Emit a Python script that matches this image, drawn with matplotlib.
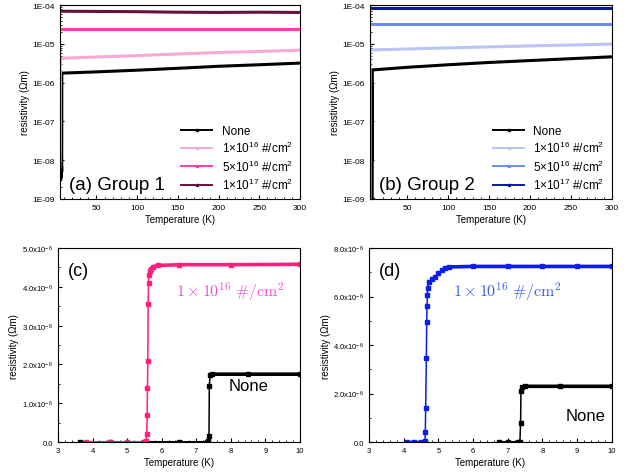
import matplotlib
matplotlib.use("Agg")
import matplotlib.pyplot as plt
from matplotlib.lines import Line2D
from matplotlib.ticker import FuncFormatter, MultipleLocator, AutoMinorLocator, LogLocator, NullFormatter
import numpy as np

plt.rcParams["font.family"] = ["Liberation Sans", "DejaVu Sans"]
plt.rcParams["mathtext.fontset"] = "custom"
plt.rcParams["mathtext.rm"] = "Liberation Sans"
plt.rcParams["mathtext.it"] = "Liberation Sans:italic"

# ---- log panels: full temperature sweep ----
g1_none_T = [5.0, 5.3, 5.6, 6.0, 6.4, 6.8, 7.1, 7.3, 7.37, 7.4, 10, 50, 100, 150, 200, 250, 300]
g1_none_r = [6e-9, 3e-9, 8e-9, 4e-9, 1e-8, 3.5e-9, 7e-9, 5e-9, 1.5e-7, 1.72e-6, 1.77e-6,
             1.9e-6, 2.1e-6, 2.35e-6, 2.65e-6, 2.9e-6, 3.2e-6]
g1_1e16_T = [5.0, 5.3, 5.56, 5.6, 5.65, 10, 50, 100, 150, 200, 250, 300]
g1_1e16_r = [7e-9, 1e-8, 2e-8, 1.4e-6, 4.2e-6, 4.3e-6, 4.6e-6, 5.0e-6, 5.5e-6, 6.0e-6, 6.4e-6, 6.9e-6]
g1_5e16_T = [5.0, 50, 100, 150, 200, 250, 300]
g1_5e16_r = [2.5e-5, 2.5e-5, 2.5e-5, 2.5e-5, 2.5e-5, 2.5e-5, 2.5e-5]
g1_1e17_T = [5.0, 50, 100, 150, 200, 250, 300]
g1_1e17_r = [7.0e-5, 6.9e-5, 6.8e-5, 6.6e-5, 6.5e-5, 6.6e-5, 6.5e-5]

g2_none_T = [7.0, 7.2, 7.36, 7.37, 7.38, 7.42, 10, 50, 100, 150, 200, 250, 300]
g2_none_r = [5e-10, 5e-10, 8e-7, 1.1e-8, 2.1e-6, 2.15e-6, 2.15e-6, 2.49e-6, 2.9e-6, 3.32e-6,
             3.72e-6, 4.16e-6, 4.65e-6]
g2_1e16_T = [4.6, 4.62, 4.65, 4.7, 10, 50, 100, 150, 200, 250, 300]
g2_1e16_r = [5e-10, 4.1e-7, 3.4e-6, 6.8e-6, 7.05e-6, 7.4e-6, 7.9e-6, 8.4e-6, 8.9e-6, 9.4e-6, 9.9e-6]
g2_5e16_T = [4.3, 50, 100, 150, 200, 250, 300]
g2_5e16_r = [3.2e-5, 3.2e-5, 3.2e-5, 3.2e-5, 3.2e-5, 3.2e-5, 3.2e-5]
g2_1e17_T = [4.3, 50, 100, 150, 200, 250, 300]
g2_1e17_r = [8.4e-5, 8.4e-5, 8.4e-5, 8.4e-5, 8.4e-5, 8.4e-5, 8.4e-5]

# ---- linear panels: transition region ----
c_dose_T = [3.8, 4.5, 5.0, 5.5, 5.55, 5.57, 5.58, 5.59, 5.6, 5.61, 5.62, 5.63, 5.65, 5.68,
            5.75, 5.9, 6.5, 8.0, 10.0]
c_dose_r = [0, 0, 0, 0, 0.03e-6, 0.2e-6, 0.7e-6, 1.4e-6, 2.1e-6, 3.55e-6, 4.1e-6, 4.3e-6,
            4.4e-6, 4.45e-6, 4.52e-6, 4.55e-6, 4.57e-6, 4.57e-6, 4.58e-6]
c_none_T = [3.65, 4.5, 5.5, 6.5, 7.3, 7.35, 7.37, 7.38, 7.4, 7.45, 8.5, 10.0]
c_none_r = [0, 0, 0, 0, 0, 0.02e-6, 0.15e-6, 1.45e-6, 1.72e-6, 1.75e-6, 1.75e-6, 1.75e-6]

d_dose_T = [4.08, 4.3, 4.5, 4.6, 4.61, 4.62, 4.63, 4.65, 4.66, 4.67, 4.68, 4.69, 4.72,
            4.8, 4.9, 5.0, 5.1, 5.2, 5.3, 6.0, 7.0, 8.0, 9.0, 10.0]
d_dose_r = [0, 0, 0, 0, 0.05e-6, 0.42e-6, 1.4e-6, 3.45e-6, 4.95e-6, 5.6e-6, 6.05e-6, 6.35e-6,
            6.6e-6, 6.72e-6, 6.82e-6, 6.95e-6, 7.08e-6, 7.17e-6, 7.22e-6, 7.24e-6, 7.24e-6,
            7.24e-6, 7.24e-6, 7.24e-6]
d_none_T = [6.75, 7.0, 7.3, 7.35, 7.37, 7.38, 7.42, 7.5, 8.5, 10.0]
d_none_r = [0, 0, 0, 0.02e-6, 0.8e-6, 2.1e-6, 2.28e-6, 2.3e-6, 2.3e-6, 2.3e-6]

labels = ["None", "1×10$^{16}$ #/cm$^{2}$", "5×10$^{16}$ #/cm$^{2}$", "1×10$^{17}$ #/cm$^{2}$"]
g1_colors = ["black", "#f7a8d6", "#ff3fa4", "#6a0f3c"]
g2_colors = ["black", "#b9c6f4", "#6c8cf2", "#0b1d8c"]

fig = plt.figure(figsize=(6.3, 4.77), dpi=100)
ax_a = fig.add_axes([0.095, 0.581, 0.381, 0.406])
ax_b = fig.add_axes([0.587, 0.581, 0.384, 0.406])
ax_c = fig.add_axes([0.092, 0.071, 0.384, 0.407])
ax_d = fig.add_axes([0.586, 0.071, 0.385, 0.407])

log_fmt = FuncFormatter(lambda v, p: f"1E{int(round(np.log10(v))):03d}")


def style_ticks(ax, labelsize):
    ax.tick_params(which="both", direction="in", labelsize=labelsize)
    ax.tick_params(which="major", length=3)
    ax.tick_params(which="minor", length=1.5)
    ax.set_xlabel("Temperature (K)", fontsize=7, labelpad=2)
    ax.set_ylabel("resistivity (Ωm)", fontsize=7, labelpad=2)


def log_panel(ax, series, colors, xmin, title):
    handles = []
    for (T, r), c, lab in zip(series, colors, labels):
        ax.plot(T, r, color=c, lw=2.2)
        handles.append(Line2D([], [], color=c, lw=1.4, marker="s", ms=2, label=lab))
    ax.set_yscale("log")
    ax.set_ylim(1e-9, 1e-4)
    ax.set_xlim(xmin, 300)
    ax.xaxis.set_major_locator(MultipleLocator(50))
    ax.xaxis.set_minor_locator(MultipleLocator(10))
    ax.yaxis.set_major_locator(LogLocator(base=10, numticks=10))
    ax.yaxis.set_minor_locator(LogLocator(base=10, subs=np.arange(2, 10), numticks=10))
    ax.yaxis.set_minor_formatter(NullFormatter())
    ax.yaxis.set_major_formatter(log_fmt)
    style_ticks(ax, 6)
    ax.legend(handles=handles, loc="lower right", frameon=False, fontsize=8.5,
              handlelength=2.6, labelspacing=0.25, borderaxespad=0.2)
    ax.text(0.04, 0.05, title, transform=ax.transAxes, fontsize=13.5)


log_panel(ax_a, [(g1_none_T, g1_none_r), (g1_1e16_T, g1_1e16_r),
                 (g1_5e16_T, g1_5e16_r), (g1_1e17_T, g1_1e17_r)], g1_colors, 5.0, "(a) Group 1")
log_panel(ax_b, [(g2_none_T, g2_none_r), (g2_1e16_T, g2_1e16_r),
                 (g2_5e16_T, g2_5e16_r), (g2_1e17_T, g2_1e17_r)], g2_colors, 4.3, "(b) Group 2")


def lin_fmt(v, p):
    if abs(v) < 1e-12:
        return "0.0"
    return f"{v * 1e6:.1f}x10$^{{-6}}$"


def draw_curve(ax, T, r, color):
    T = np.asarray(T)
    r = np.asarray(r)
    # thin line with markers through the jump, heavier stroke on the flat parts
    ax.plot(T, r, color=color, lw=1.1, marker="s", ms=2.2)
    top = r >= 0.97 * r.max()
    base = r == 0
    ax.plot(T[top], r[top], color=color, lw=2.6, solid_capstyle="butt")
    ax.plot(T[base], r[base], color=color, lw=2.2, solid_capstyle="butt")


def lin_panel(ax, dose, none, dose_color, text_color, ymax, step, tag, txt_xy, none_xy):
    draw_curve(ax, none[0], none[1], "black")
    draw_curve(ax, dose[0], dose[1], dose_color)
    ax.set_xlim(3, 10)
    ax.set_ylim(0, ymax)
    ax.xaxis.set_major_locator(MultipleLocator(1))
    ax.xaxis.set_minor_locator(AutoMinorLocator(5))
    ax.yaxis.set_major_locator(MultipleLocator(step))
    ax.yaxis.set_minor_locator(AutoMinorLocator(2))
    ax.yaxis.set_major_formatter(FuncFormatter(lin_fmt))
    style_ticks(ax, 5.5)
    ax.text(0.04, 0.86, tag, transform=ax.transAxes, fontsize=13)
    ax.text(txt_xy[0], txt_xy[1], r"$1\times10^{16}\ \#/\mathrm{cm}^2$", color=text_color,
            fontsize=11.5, va="center", math_fontfamily="cm")
    ax.text(none_xy[0], none_xy[1], "None", fontsize=12, va="center")


lin_panel(ax_c, (c_dose_T, c_dose_r), (c_none_T, c_none_r), "#ff1f7c", "#f04fd8",
          5e-6, 1e-6, "(c)", (6.42, 3.9e-6), (7.93, 1.45e-6))
lin_panel(ax_d, (d_dose_T, d_dose_r), (d_none_T, d_none_r), "#0a1ef2", "#3a5af0",
          8e-6, 2e-6, "(d)", (5.42, 6.25e-6), (8.68, 1.1e-6))

fig.savefig("out.png", dpi=100)
